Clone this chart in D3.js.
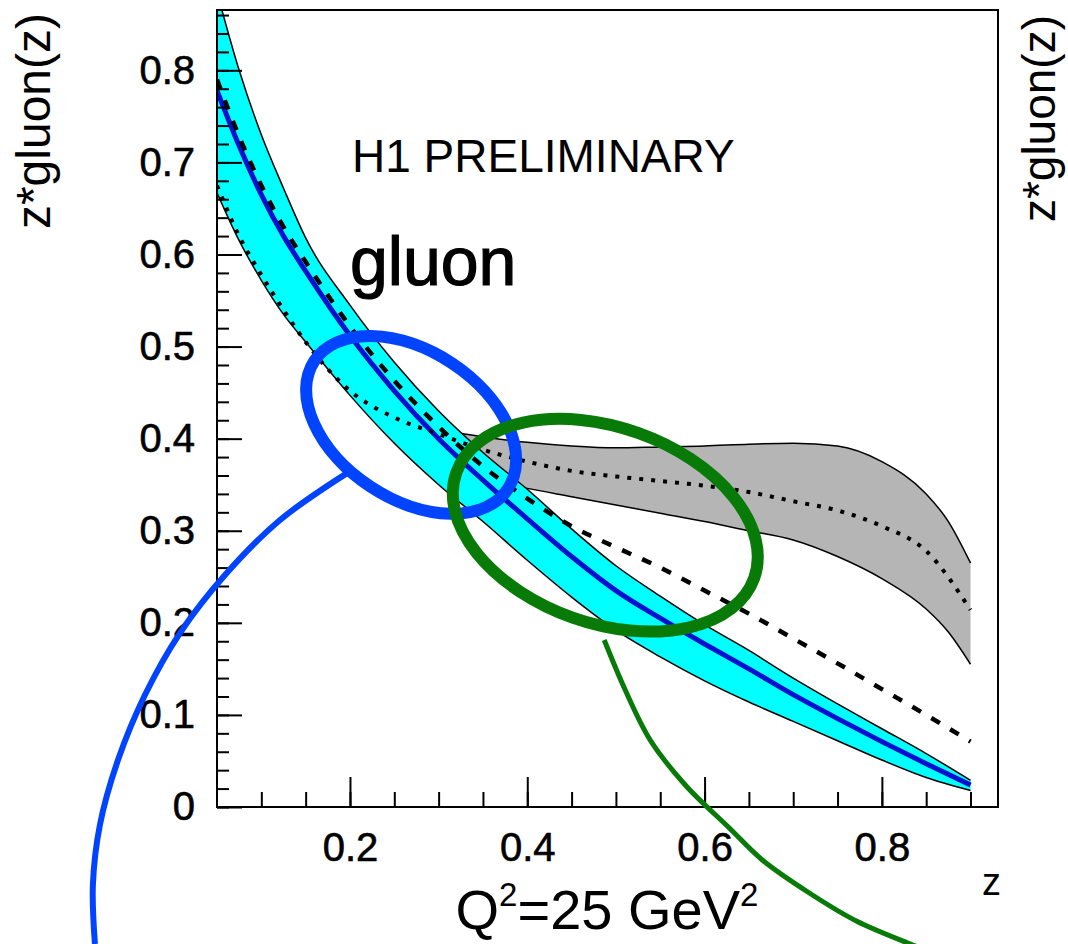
<!DOCTYPE html>
<html>
<head>
<meta charset="utf-8">
<script src="https://cdn.jsdelivr.net/npm/d3@7/dist/d3.min.js"></script>
<style>
  html, body { margin: 0; padding: 0; background: #fff; }
  svg { display: block; font-family: "Liberation Sans", Arial, Helvetica, sans-serif; }
</style>
</head>
<body>
<div id="chart"></div>
<script>
// z sampling points used for all curves
const zGrid = [0.05, 0.075, 0.1, 0.125, 0.15, 0.2, 0.25, 0.3, 0.35, 0.4, 0.45, 0.5, 0.55, 0.6, 0.65, 0.7, 0.75, 0.8, 0.85, 0.9];

// H1 fit: central value and error band (cyan)
const fitCentral = [0.778, 0.718, 0.665, 0.620, 0.582, 0.512, 0.452, 0.400, 0.355, 0.313, 0.272, 0.235, 0.205, 0.177, 0.150, 0.122, 0.096, 0.071, 0.047, 0.024];
const fitUpper   = [0.885, 0.800, 0.730, 0.672, 0.618, 0.545, 0.483, 0.430, 0.385, 0.345, 0.302, 0.262, 0.229, 0.198, 0.170, 0.140, 0.112, 0.085, 0.058, 0.029];
const fitLower   = [0.667, 0.615, 0.572, 0.535, 0.505, 0.447, 0.395, 0.350, 0.310, 0.268, 0.228, 0.192, 0.163, 0.137, 0.114, 0.093, 0.072, 0.051, 0.032, 0.018];

// comparison curves
const dashedCurve = [0.790, 0.728, 0.675, 0.630, 0.592, 0.522, 0.463, 0.413, 0.370, 0.335, 0.305, 0.282, 0.260, 0.235, 0.210, 0.183, 0.156, 0.128, 0.100, 0.071];
const dottedCurve = [0.675, 0.620, 0.578, 0.540, 0.505, 0.452, 0.423, 0.405, 0.388, 0.375, 0.365, 0.359, 0.354, 0.349, 0.342, 0.332, 0.322, 0.305, 0.278, 0.214];

// grey band around the dotted curve
const greyZ     = [0.3, 0.35, 0.4, 0.45, 0.5, 0.55, 0.6, 0.65, 0.7, 0.75, 0.8, 0.85, 0.875, 0.9];
const greyUpper = [0.410, 0.402, 0.396, 0.392, 0.390, 0.391, 0.392, 0.394, 0.395, 0.392, 0.375, 0.340, 0.310, 0.265];
const greyLower = [0.370, 0.356, 0.346, 0.337, 0.328, 0.319, 0.310, 0.300, 0.290, 0.272, 0.248, 0.215, 0.190, 0.155];

// axis ticks
const xTickValues = [0.2, 0.4, 0.6, 0.8];
const xTickLabels = ["0.2", "0.4", "0.6", "0.8"];
const yTickValues = [0, 0.1, 0.2, 0.3, 0.4, 0.5, 0.6, 0.7, 0.8];
const yTickLabels = ["0", "0.1", "0.2", "0.3", "0.4", "0.5", "0.6", "0.7", "0.8"];

// hand drawn highlight rings and their tails (in axis units)
const blueRingCentre  = [0.269, 0.415];
const greenRingCentre = [0.488, 0.306];
const blueTailZ  = [0.1967, 0.1211, 0.0590, 0.0082, -0.0313, -0.0617, -0.0821, -0.0900, -0.0877];
const blueTailV  = [0.3626, 0.3116, 0.2519, 0.1889, 0.1216, 0.0510, -0.0195, -0.0847, -0.1488];
const greenTailZ = [0.4868, 0.5105, 0.5387, 0.5782, 0.6279, 0.6651, 0.7182, 0.7712, 0.8322, 0.849];
const greenTailV = [0.1813, 0.127, 0.0727, 0.0239, -0.0228, -0.0575, -0.0934, -0.1238, -0.1488, -0.155];

const W = 1068, H = 944;
const plot = { left: 217, right: 998, top: 10, bottom: 807 };

const svg = d3.select("#chart").append("svg")
    .attr("width", W)
    .attr("height", H);

const x = d3.scaleLinear().domain([0.05, 0.931]).range([plot.left, plot.right]);
const y = d3.scaleLinear().domain([0, 0.8655]).range([plot.bottom, plot.top]);

svg.append("clipPath").attr("id", "plotclip")
  .append("rect")
    .attr("x", plot.left).attr("y", plot.top)
    .attr("width", plot.right - plot.left).attr("height", plot.bottom - plot.top);

const g = svg.append("g").attr("clip-path", "url(#plotclip)");

const toPts = (zs, vs) => zs.map((z, i) => ({ z: z, v: vs[i] }));
const line = d3.line().x(d => x(d.z)).y(d => y(d.v)).curve(d3.curveMonotoneX);
const bandArea = (zs, lo, hi) => d3.area()
    .x((d, i) => x(zs[i]))
    .y0((d, i) => y(lo[i]))
    .y1((d, i) => y(hi[i]))
    .curve(d3.curveMonotoneX)(zs);

// grey band
g.append("path").attr("d", bandArea(greyZ, greyLower, greyUpper))
    .attr("fill", "#b5b5b5");
[greyUpper, greyLower].forEach(arr => {
    g.append("path").attr("d", line(toPts(greyZ, arr)))
        .attr("fill", "none").attr("stroke", "#000").attr("stroke-width", 1.5);
});

// cyan band
g.append("path").attr("d", bandArea(zGrid, fitLower, fitUpper))
    .attr("fill", "#00ffff");
[fitUpper, fitLower].forEach(arr => {
    g.append("path").attr("d", line(toPts(zGrid, arr)))
        .attr("fill", "none").attr("stroke", "#000").attr("stroke-width", 1.5);
});

// central fit line
g.append("path").attr("d", line(toPts(zGrid, fitCentral)))
    .attr("fill", "none").attr("stroke", "#0010d0").attr("stroke-width", 5);

// dashed and dotted curves
g.append("path").attr("d", line(toPts(zGrid, dashedCurve)))
    .attr("fill", "none").attr("stroke", "#000").attr("stroke-width", 4.5)
    .attr("stroke-dasharray", "10,12");
g.append("path").attr("d", line(toPts(zGrid, dottedCurve)))
    .attr("fill", "none").attr("stroke", "#000").attr("stroke-width", 4)
    .attr("stroke-dasharray", "4,8");

// frame
svg.append("rect")
    .attr("x", plot.left).attr("y", plot.top)
    .attr("width", plot.right - plot.left).attr("height", plot.bottom - plot.top)
    .attr("fill", "none").attr("stroke", "#000").attr("stroke-width", 2);

// y axis: major + minor ticks
svg.append("g").attr("transform", `translate(${plot.left},0)`)
    .call(d3.axisLeft(y).tickValues(yTickValues)
        .tickFormat((d, i) => yTickLabels[i])
        .tickSize(-25).tickPadding(22));
svg.append("g").attr("transform", `translate(${plot.left},0)`)
    .call(d3.axisLeft(y).tickValues(d3.range(0, 0.861, 0.02)).tickFormat("").tickSize(-12));

// x axis: major + minor ticks
svg.append("g").attr("transform", `translate(0,${plot.bottom})`)
    .call(d3.axisBottom(x).tickValues(xTickValues)
        .tickFormat((d, i) => xTickLabels[i])
        .tickSize(-30).tickPadding(26));
svg.append("g").attr("transform", `translate(0,${plot.bottom})`)
    .call(d3.axisBottom(x).tickValues(d3.range(0.1, 0.901, 0.05)).tickFormat("").tickSize(-15));

svg.selectAll(".domain").remove();
svg.selectAll(".tick line").attr("stroke", "#000").attr("stroke-width", 2);
svg.selectAll(".tick text")
    .attr("font-family", "'Liberation Sans', Arial, sans-serif")
    .attr("font-size", 40)
    .attr("fill", "#000")
    .attr("stroke", "#000").attr("stroke-width", 0.6);

// titles
svg.append("text")
    .attr("transform", "translate(50,13) rotate(-90)")
    .attr("text-anchor", "end")
    .attr("font-size", 48)
    .text("z*gluon(z)");
svg.append("text")
    .attr("transform", "translate(1055,15) rotate(-90)")
    .attr("text-anchor", "end")
    .attr("font-size", 46)
    .text("z*gluon(z)");

svg.append("text")
    .attr("x", 982).attr("y", 895)
    .attr("font-size", 38)
    .text("z");

const q = svg.append("text")
    .attr("x", 607).attr("y", 929)
    .attr("text-anchor", "middle")
    .attr("font-size", 56);
q.append("tspan").text("Q");
q.append("tspan").attr("dy", -23).attr("font-size", 33).text("2");
q.append("tspan").attr("dy", 23).text("=25 GeV");
q.append("tspan").attr("dy", -23).attr("font-size", 33).text("2");

svg.append("text")
    .attr("x", 352).attr("y", 172)
    .attr("font-size", 46)
    .text("H1 PRELIMINARY");

svg.append("text")
    .attr("x", 350).attr("y", 285)
    .attr("font-size", 68)
    .attr("stroke", "#000").attr("stroke-width", 1.2)
    .text("gluon");

// highlight rings
const ann = svg.append("g");
const tail = d3.line().x(d => x(d.z)).y(d => y(d.v)).curve(d3.curveCatmullRom.alpha(0.5));

ann.append("path").attr("d", tail(toPts(blueTailZ, blueTailV)))
    .attr("fill", "none").attr("stroke", "#0044ff").attr("stroke-width", 6);
ann.append("path").attr("d", tail(toPts(greenTailZ, greenTailV)))
    .attr("fill", "none").attr("stroke", "#087a08").attr("stroke-width", 5);

const ring = (c, rx, ry, angle, colour) => {
    const cx = x(c[0]), cy = y(c[1]);
    ann.append("ellipse")
        .attr("cx", cx).attr("cy", cy)
        .attr("rx", rx).attr("ry", ry)
        .attr("transform", `rotate(${angle},${cx},${cy})`)
        .attr("fill", "none").attr("stroke", colour).attr("stroke-width", 12);
};
ring(blueRingCentre, 116, 74, 33.5, "#0044ff");
ring(greenRingCentre, 158, 98, 19.5, "#087a08");
</script>
</body>
</html>
